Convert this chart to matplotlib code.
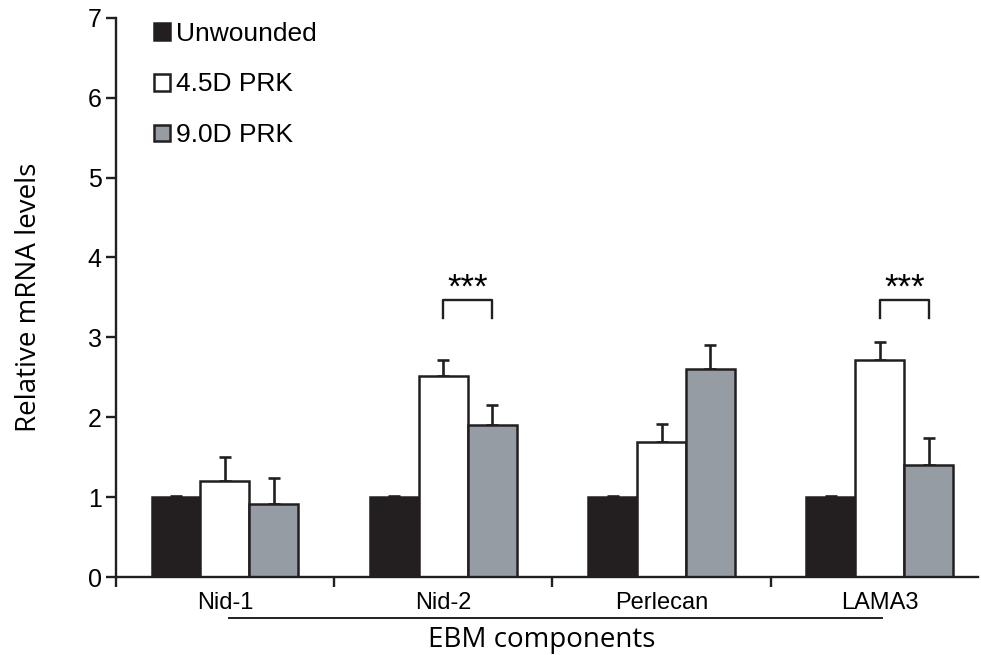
import matplotlib

matplotlib.use("Agg")

import matplotlib.pyplot as plt
import matplotlib.transforms as mtransforms
import numpy as np

components = ["Nid-1", "Nid-2", "Perlecan", "LAMA3"]
series = ["Unwounded", "4.5D PRK", "9.0D PRK"]
unwounded = [1.0, 1.0, 1.0, 1.0]
unwounded_err = [0.01, 0.01, 0.01, 0.01]
prk45 = [1.20, 2.52, 1.69, 2.72]
prk45_err = [0.30, 0.19, 0.22, 0.22]
prk90 = [0.91, 1.90, 2.60, 1.40]
prk90_err = [0.33, 0.25, 0.30, 0.34]
significant = [1, 3]

colors = ["#231f20", "#ffffff", "#959ca3"]

plt.rcParams["font.family"] = ["Liberation Sans", "DejaVu Sans"]

fig = plt.figure(figsize=(9.81, 6.55), dpi=100)
ax = fig.add_axes([0.118, 0.119, 0.879, 0.854])

x = np.arange(len(components))
width = 0.224
offsets = [-width, 0, width]
values = [unwounded, prk45, prk90]
errors = [unwounded_err, prk45_err, prk90_err]

handles = []
for off, vals, errs, color, name in zip(offsets, values, errors, colors, series):
    bars = ax.bar(x + off, vals, width, color=color, edgecolor="#231f20",
                  linewidth=1.8, label=name, zorder=2)
    ax.errorbar(x + off, vals, yerr=[np.zeros(len(vals)), errs], fmt="none",
                ecolor="#231f20", elinewidth=1.9, capsize=4.5, capthick=1.9,
                zorder=1)
    handles.append(bars)

# significance brackets between 4.5D and 9.0D
for i in significant:
    x1 = x[i] + offsets[1]
    x2 = x[i] + offsets[2]
    top = 3.47
    ax.plot([x1, x1, x2, x2], [3.24, top, top, 3.24], color="#231f20",
            linewidth=1.7)
    ax.text((x1 + x2) / 2, top - 0.06, "***", ha="center", va="bottom",
            fontsize=25)

ax.set_xlim(-0.5, 3.45)
ax.set_ylim(0, 7)
ax.set_yticks(range(8))
ax.set_xticks([-0.5, 0.5, 1.5, 2.5])
ax.set_xticklabels([])
ax.tick_params(axis="both", length=7, width=1.7, color="#231f20",
               labelsize=18, direction="out")
ax.tick_params(axis="y", pad=3)

for i, name in enumerate(components):
    ax.text(x[i], -0.32, name, ha="center", va="center", fontsize=17,
            transform=ax.transData, clip_on=False)

for side in ["top", "right"]:
    ax.spines[side].set_visible(False)
for side in ["left", "bottom"]:
    ax.spines[side].set_linewidth(1.7)
    ax.spines[side].set_color("#231f20")

ax.set_ylabel("Relative mRNA levels", fontsize=20, family="Open Sans",
              labelpad=32)

trans = mtransforms.blended_transform_factory(ax.transData, ax.transAxes)
ax.plot([0.02, 3.01], [-0.073, -0.073], color="#231f20", linewidth=1.4,
        transform=trans, clip_on=False)
ax.text(1.45, -0.113, "EBM components", ha="center", va="center",
        fontsize=20, family="Open Sans", transform=trans, clip_on=False)

ax.legend(handles=handles, loc="upper left", bbox_to_anchor=(0.032, 1.012),
          frameon=False, fontsize=19, handlelength=0.6, handleheight=0.6,
          handletextpad=0.25, labelspacing=1.02, borderaxespad=0)

fig.savefig("out.png", dpi=100)
